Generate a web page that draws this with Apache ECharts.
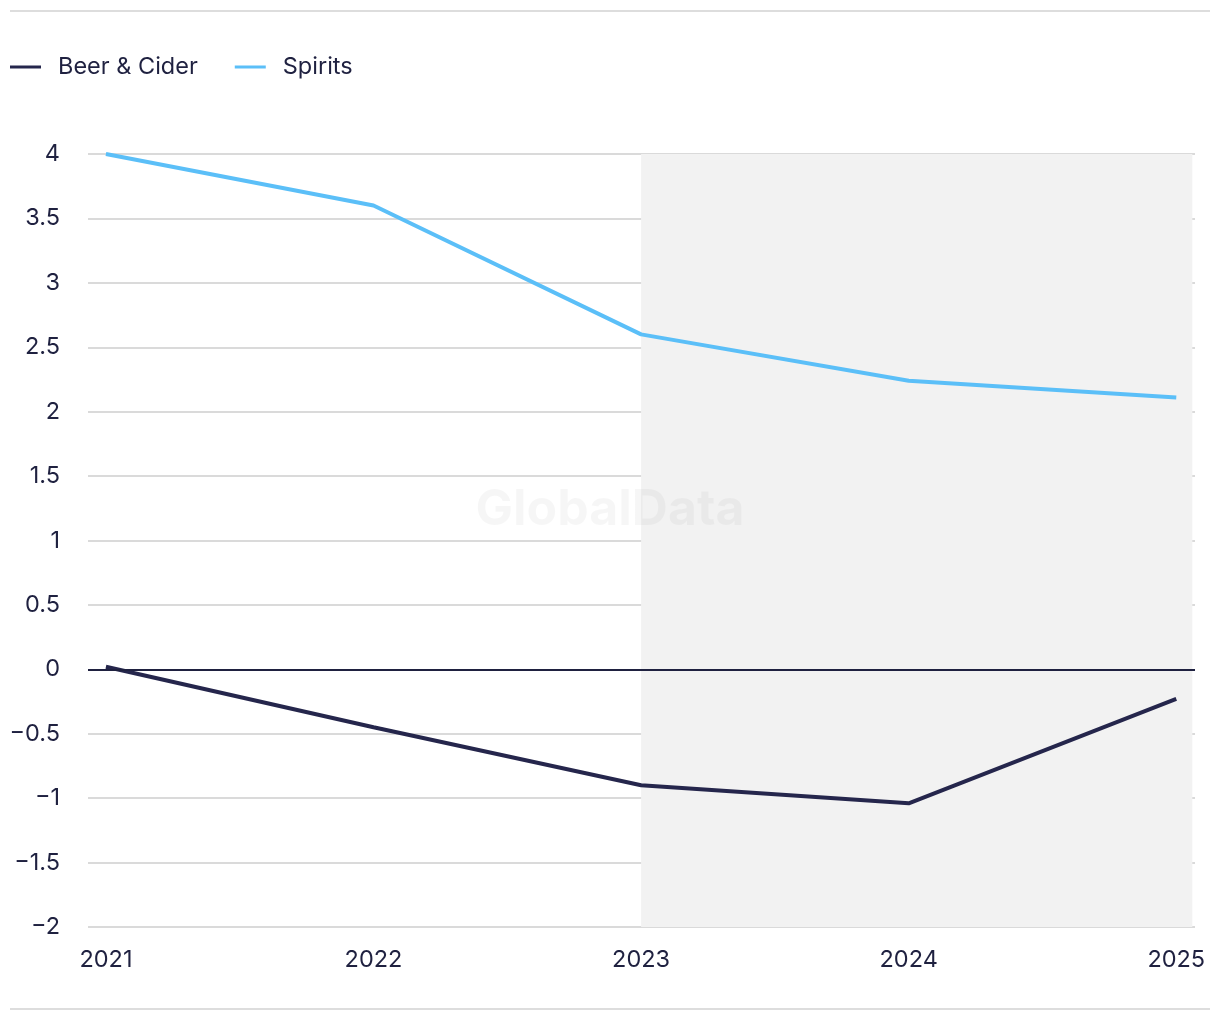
<!DOCTYPE html>
<html>
<head>
<meta charset="utf-8">
<script src="https://cdn.jsdelivr.net/npm/echarts@6/dist/echarts.min.js"></script>
<style>html,body{margin:0;padding:0;background:#fff;}#c{width:1220px;height:1020px;}</style>
</head>
<body>
<div id="c"></div>
<script>
const years = [2021, 2022, 2023, 2024, 2025];
const beerCider = [0.02, -0.45, -0.9, -1.04, -0.23];
const spirits = [4.0, 3.6, 2.6, 2.24, 2.11];
const forecastStart = 2023;

const chart = echarts.init(document.getElementById('c'));
const font = 'Inter, "Noto Sans", sans-serif';
const txt = '#1f2140';
chart.setOption({
  animation: false,
  textStyle: { fontFamily: font },
  legend: {
    left: 5, top: 50,
    itemWidth: 31, itemHeight: 3, itemGap: 37,
    icon: 'rect',
    textStyle: { fontSize: 23.5, color: txt, fontFamily: font, padding: [0, 0, 0, 12] },
    data: ['Beer & Cider', 'Spirits']
  },
  graphic: [
    { type: 'rect', shape: { x: 10, y: 10, width: 1200, height: 2 }, style: { fill: '#dddddd' } },
    { type: 'rect', shape: { x: 10, y: 1008, width: 1200, height: 2 }, style: { fill: '#dddddd' } },
    { type: 'text', left: 'center', top: 485, z: 100,
      style: { text: 'GlobalData', font: 'bold 50px ' + font, fill: 'rgba(0,0,0,0.035)' } }
  ],
  grid: { left: 88, right: 25, top: 154, bottom: 93, containLabel: false },
  xAxis: {
    type: 'value', min: 2020.933, max: 2025.07,
    axisLine: { show: false }, axisTick: { show: false }, splitLine: { show: false },
    axisLabel: {
      customValues: years, formatter: v => String(v),
      fontSize: 23.5, color: txt, margin: 21, fontFamily: font
    }
  },
  yAxis: {
    type: 'value', min: -2, max: 4, interval: 0.5,
    axisLine: { show: false }, axisTick: { show: false },
    splitLine: { lineStyle: { color: '#dadada', width: 2 } },
    axisLabel: {
      fontSize: 23.5, color: txt, margin: 28, fontFamily: font,
      formatter: v => String(v).replace('-', '\u2212')
    }
  },
  series: [
    {
      type: 'line', name: 'shade', data: [], z: -1, silent: true,
      markArea: { silent: true, itemStyle: { color: '#f2f2f2' },
        data: [[{ xAxis: forecastStart }, { xAxis: 2025.06 }]] }
    },
    {
      name: 'Beer & Cider', type: 'line', color: '#25264c',
      data: years.map((y, i) => [y, beerCider[i]]),
      showSymbol: false, lineStyle: { width: 4 },
      markLine: { silent: true, symbol: 'none', label: { show: false },
        lineStyle: { color: '#1f2140', width: 2, type: 'solid' },
        data: [{ yAxis: 0 }] }
    },
    {
      name: 'Spirits', type: 'line', color: '#5bbff8',
      data: years.map((y, i) => [y, spirits[i]]),
      showSymbol: false, lineStyle: { width: 4 }
    }
  ]
});
</script>
</body>
</html>
